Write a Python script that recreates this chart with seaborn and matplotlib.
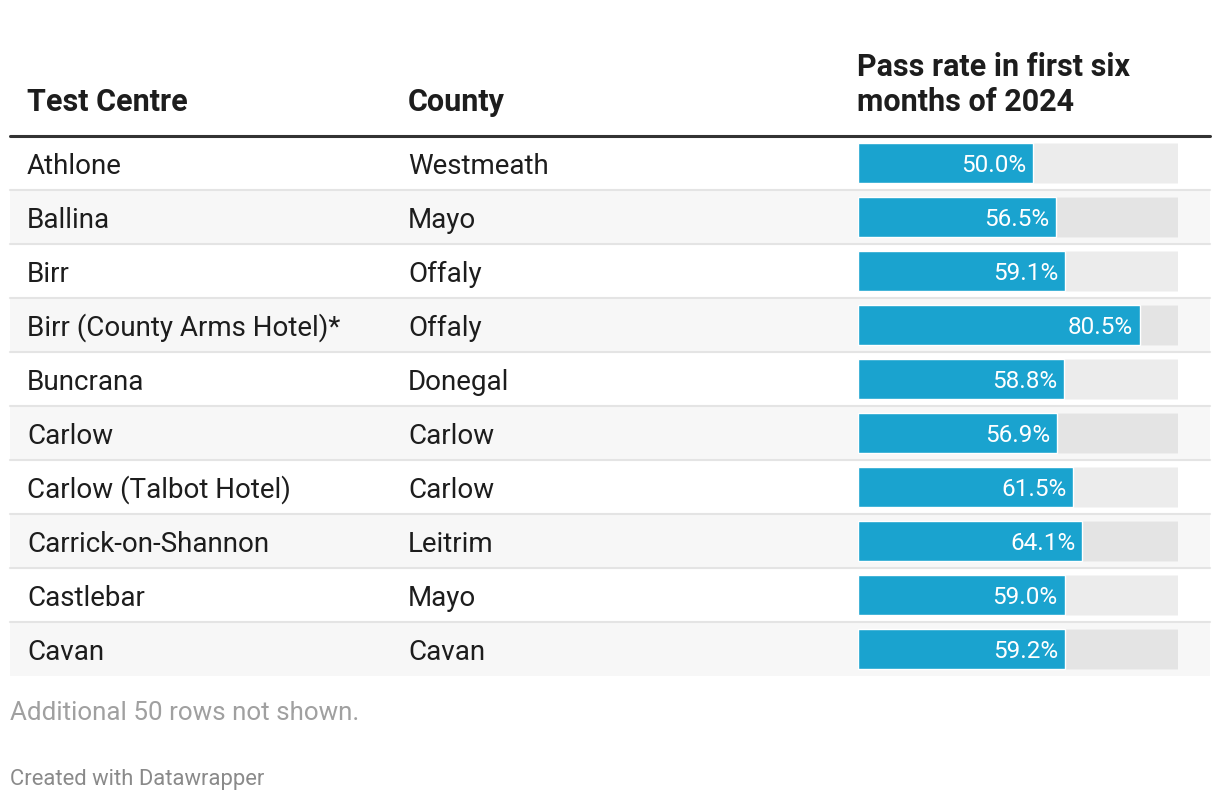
import matplotlib
matplotlib.use("Agg")
import matplotlib.pyplot as plt
import seaborn as sns
import pandas as pd

# table data
centres = ["Athlone", "Ballina", "Birr", "Birr (County Arms Hotel)*", "Buncrana",
           "Carlow", "Carlow (Talbot Hotel)", "Carrick-on-Shannon", "Castlebar", "Cavan"]
counties = ["Westmeath", "Mayo", "Offaly", "Offaly", "Donegal",
            "Carlow", "Carlow", "Leitrim", "Mayo", "Cavan"]
pass_rates = [50.0, 56.5, 59.1, 80.5, 58.8, 56.9, 61.5, 64.1, 59.0, 59.2]
headers = ["Test Centre", "County", ["Pass rate in first six", "months of 2024"]]
note = "Additional 50 rows not shown."
credit = "Created with Datawrapper"

df = pd.DataFrame({"centre": centres, "county": counties, "rate": pass_rates})

sns.set_style("white")
plt.rcParams["font.family"] = ["Roboto", "DejaVu Sans"]

W, H = 1220, 802
fig = plt.figure(figsize=(W / 100, H / 100), dpi=100)

# background axes in pixel coordinates
bg = fig.add_axes([0, 0, 1, 1])
bg.set_xlim(0, W)
bg.set_ylim(H, 0)
bg.axis("off")

top, row_h = 136, 54
left, right = 10, 1210
col_x = [27, 408, 857]
text_color = "#1d1d1d"
hsize, bsize = 22, 20

# headers
bg.text(col_x[0], 111, headers[0], fontsize=hsize, fontweight="bold", color=text_color, va="baseline")
bg.text(col_x[1], 111, headers[1], fontsize=hsize, fontweight="bold", color=text_color, va="baseline")
for k, line in enumerate(headers[2]):
    bg.text(col_x[2], 76 + 35 * k, line, fontsize=hsize, fontweight="bold",
            color=text_color, va="baseline")

# rows
for i, row in df.iterrows():
    y0 = top + i * row_h
    if i % 2 == 1:
        bg.fill_between([left, right], y0, y0 + row_h, color="#f7f7f7", lw=0, zorder=0)
    if i > 0:
        bg.plot([left, right], [y0, y0], color="#e4e4e4", lw=1.5, zorder=1)
    bg.text(col_x[0], y0 + 38, row["centre"], fontsize=bsize, color=text_color, va="baseline")
    bg.text(col_x[1], y0 + 38, row["county"], fontsize=bsize, color=text_color, va="baseline")

bg.plot([left, right], [top, top], color="#333333", lw=2.2, zorder=2)

bg.text(left, 720, note, fontsize=18.7, color="#a0a0a0", va="baseline")
bg.text(left, 785, credit, fontsize=15.8, color="#8a8a8a", va="baseline")

# bar column axes
bx0, bx1 = 858, 1178
by0, by1 = top, top + row_h * len(df)
ax = fig.add_axes([bx0 / W, 1 - by1 / H, (bx1 - bx0) / W, (by1 - by0) / H])
ax.patch.set_alpha(0)
xmax = 91.4
df["full"] = xmax

sns.barplot(data=df, x="full", y="centre", orient="h", color="black", alpha=0.075,
            width=40 / 54, saturation=1, ax=ax)
sns.barplot(data=df, x="rate", y="centre", orient="h", color="#1aa3cf",
            width=40 / 54, saturation=1, ax=ax)

bars = ax.containers[1]
for patch, v in zip(bars, df["rate"]):
    ax.annotate(f"{v:.1f}%", (patch.get_width(), patch.get_y() + patch.get_height() / 2),
                xytext=(-7, -9), textcoords="offset pixels", ha="right", va="baseline",
                color="white", fontsize=17.5)

ax.set_xlim(0, xmax)
ax.set_ylim(len(df) - 0.5, -0.5)
ax.axis("off")

fig.savefig("out.png", dpi=100, facecolor="white")
